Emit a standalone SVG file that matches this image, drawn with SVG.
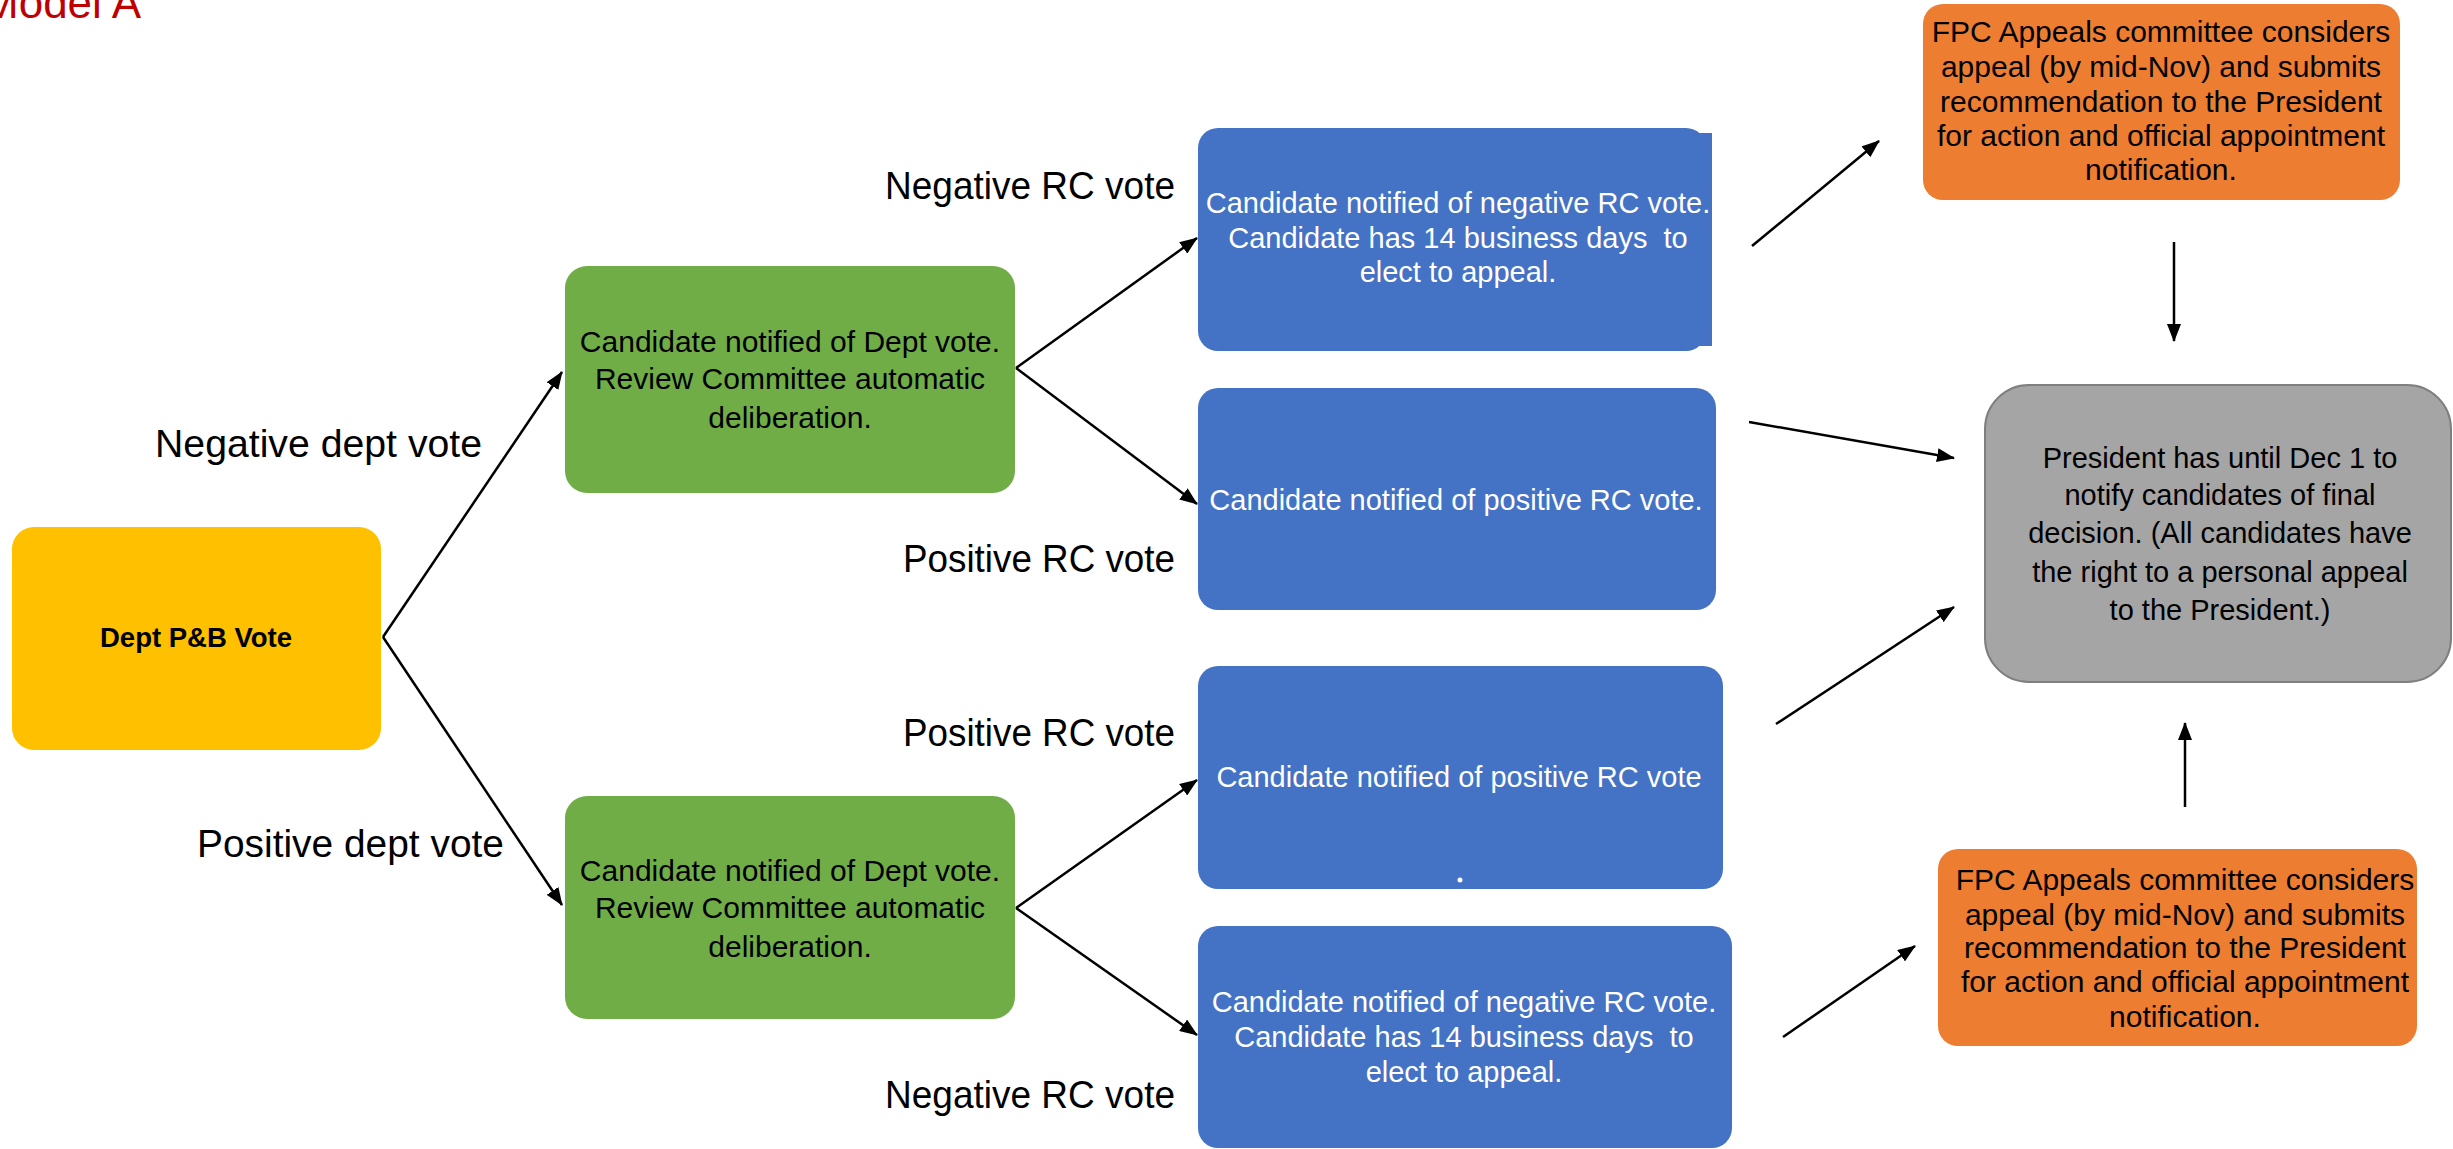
<svg xmlns="http://www.w3.org/2000/svg" width="2453" height="1149" viewBox="0 0 2453 1149">
<defs>
<marker id="ah" markerUnits="userSpaceOnUse" markerWidth="18" markerHeight="14" refX="17" refY="7" orient="auto">
<path d="M0,0 L18,7 L0,14 z" fill="#000"/>
</marker>
<style>
text{font-family:"Liberation Sans",Arial,sans-serif;text-anchor:middle;white-space:pre}
.lbl{font-size:38.5px;fill:#000;text-anchor:start}
.g{fill:#70AD47}
.b{fill:#4472C4}
.o{fill:#ED7D31}
.gt{font-size:30px;fill:#000}
.bt{font-size:29px;fill:#fff}
.ot{font-size:30px;fill:#000}
.pt{font-size:29px;fill:#000}
.c line{stroke:#000;stroke-width:2.5;marker-end:url(#ah)}
</style>
</defs>
<rect width="2453" height="1149" fill="#fff"/>
<text x="141" y="18" style="font-size:44px;fill:#C00000;text-anchor:end">Model A</text>

<g id="labels">
<text class="lbl" x="155" y="457" textLength="327" lengthAdjust="spacingAndGlyphs">Negative dept vote</text>
<text class="lbl" x="197" y="857" textLength="307" lengthAdjust="spacingAndGlyphs">Positive dept vote</text>
<text class="lbl" x="885" y="199" textLength="290" lengthAdjust="spacingAndGlyphs">Negative RC vote</text>
<text class="lbl" x="903" y="572" textLength="272" lengthAdjust="spacingAndGlyphs">Positive RC vote</text>
<text class="lbl" x="903" y="746" textLength="272" lengthAdjust="spacingAndGlyphs">Positive RC vote</text>
<text class="lbl" x="885" y="1108" textLength="290" lengthAdjust="spacingAndGlyphs">Negative RC vote</text>
</g>

<g id="connectors" class="c">
<line x1="383" y1="637" x2="562" y2="372"/>
<line x1="383" y1="637" x2="562" y2="905"/>
<line x1="1016" y1="368" x2="1197" y2="238"/>
<line x1="1016" y1="368" x2="1197" y2="504"/>
<line x1="1016" y1="908" x2="1197" y2="780"/>
<line x1="1016" y1="908" x2="1197" y2="1035"/>
<line x1="1752" y1="246" x2="1879" y2="141"/>
<line x1="2174" y1="242" x2="2174" y2="341"/>
<line x1="1749" y1="422" x2="1954" y2="458"/>
<line x1="1776" y1="724" x2="1954" y2="607"/>
<line x1="2185" y1="807" x2="2185" y2="723"/>
<line x1="1783" y1="1037" x2="1915" y2="946"/>
</g>

<g id="dept">
<rect x="12" y="527" width="369" height="223" rx="22" fill="#FFC000"/>
<text x="196" y="647" style="font-size:27.5px;font-weight:bold;fill:#000">Dept P&amp;B Vote</text>
</g>

<g id="green1">
<rect class="g" x="565" y="266" width="450" height="227" rx="22"/>
<text class="gt" x="790" y="352">Candidate notified of Dept vote.</text>
<text class="gt" x="790" y="389">Review Committee automatic</text>
<text class="gt" x="790" y="428">deliberation.</text>
</g>

<g id="green2">
<rect class="g" x="565" y="796" width="450" height="223" rx="22"/>
<text class="gt" x="790" y="881">Candidate notified of Dept vote.</text>
<text class="gt" x="790" y="918">Review Committee automatic</text>
<text class="gt" x="790" y="957">deliberation.</text>
</g>

<g id="blue1">
<rect class="b" x="1198" y="128" width="508" height="223" rx="20"/>
<rect class="b" x="1220" y="133" width="492" height="213"/>
<text class="bt" x="1458" y="213">Candidate notified of negative RC vote.</text>
<text class="bt" x="1458" y="248">Candidate has 14 business days  to</text>
<text class="bt" x="1458" y="282">elect to appeal.</text>
</g>

<g id="blue2">
<rect class="b" x="1198" y="388" width="518" height="222" rx="20"/>
<text class="bt" x="1456" y="510">Candidate notified of positive RC vote.</text>
</g>

<g id="blue3">
<rect class="b" x="1198" y="666" width="525" height="223" rx="20"/>
<text class="bt" x="1459" y="787">Candidate notified of positive RC vote</text>
<circle cx="1460" cy="880" r="2.5" fill="#fff"/>
</g>

<g id="blue4">
<rect class="b" x="1198" y="926" width="534" height="222" rx="20"/>
<text class="bt" x="1464" y="1012">Candidate notified of negative RC vote.</text>
<text class="bt" x="1464" y="1047">Candidate has 14 business days  to</text>
<text class="bt" x="1464" y="1082">elect to appeal.</text>
</g>

<g id="fpc1">
<rect class="o" x="1923" y="4" width="477" height="196" rx="20"/>
<text class="ot" x="2161" y="42">FPC Appeals committee considers</text>
<text class="ot" x="2161" y="77">appeal (by mid-Nov) and submits</text>
<text class="ot" x="2161" y="112">recommendation to the President</text>
<text class="ot" x="2161" y="146">for action and official appointment</text>
<text class="ot" x="2161" y="180">notification.</text>
</g>

<g id="fpc2">
<rect class="o" x="1938" y="849" width="479" height="197" rx="20"/>
<text class="ot" x="2185" y="890">FPC Appeals committee considers</text>
<text class="ot" x="2185" y="925">appeal (by mid-Nov) and submits</text>
<text class="ot" x="2185" y="958">recommendation to the President</text>
<text class="ot" x="2185" y="992">for action and official appointment</text>
<text class="ot" x="2185" y="1027">notification.</text>
</g>

<g id="president">
<rect x="1985" y="385" width="466" height="297" rx="44" fill="#A5A5A5" stroke="#7F7F7F" stroke-width="2"/>
<text class="pt" x="2220" y="468">President has until Dec 1 to</text>
<text class="pt" x="2220" y="505">notify candidates of final</text>
<text class="pt" x="2220" y="543">decision. (All candidates have</text>
<text class="pt" x="2220" y="582">the right to a personal appeal</text>
<text class="pt" x="2220" y="620">to the President.)</text>
</g>
</svg>
